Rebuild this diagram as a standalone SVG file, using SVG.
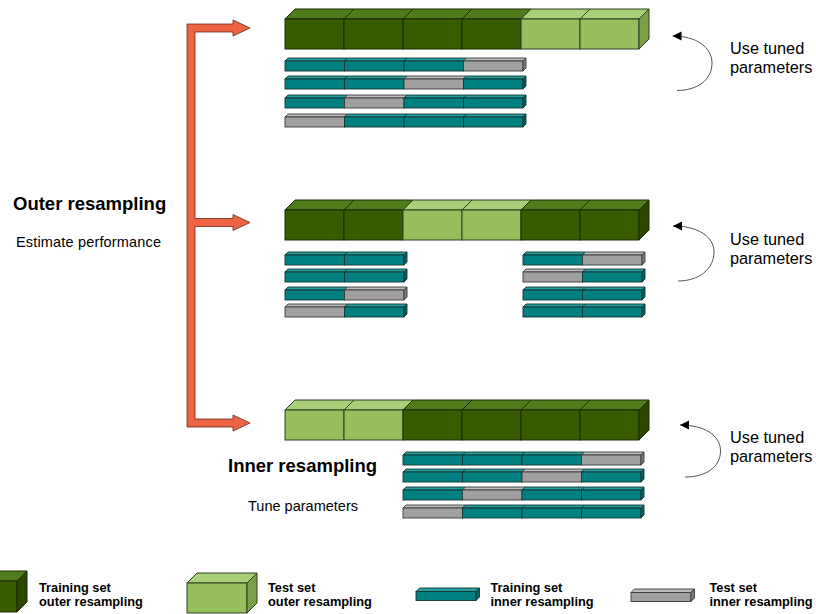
<svg xmlns="http://www.w3.org/2000/svg" xmlns:xlink="http://www.w3.org/1999/xlink" width="816" height="614" viewBox="0 0 816 614">
<style>
.df{fill:#385c00;stroke:#1a2a05;stroke-width:1}
.dt{fill:#4f7d1c;stroke:#1a2a05;stroke-width:1}
.ds{fill:#2c4800;stroke:#1a2a05;stroke-width:1}
.lf{fill:#97be5d;stroke:#2f3f20;stroke-width:1}
.lt{fill:#a9cf7a;stroke:#2f3f20;stroke-width:1}
.ls{fill:#7a9f48;stroke:#2f3f20;stroke-width:1}
.tf{fill:#008080;stroke:#173434;stroke-width:0.9}
.tt{fill:#22a0a0;stroke:#173434;stroke-width:0.9}
.ts{fill:#006262;stroke:#173434;stroke-width:0.9}
.gf{fill:#a0a0a0;stroke:#3a3a3a;stroke-width:0.9}
.gt{fill:#bcbcbc;stroke:#3a3a3a;stroke-width:0.9}
.gs{fill:#7c7c7c;stroke:#3a3a3a;stroke-width:0.9}
.orange{fill:#ec6444;stroke:#6b2a1a;stroke-width:0.8}
.arc{fill:none;stroke:#555;stroke-width:1}
.t{font-family:"Liberation Sans",Arial,sans-serif;fill:#000}
.h{font-size:18.5px;font-weight:bold}
.s{font-size:14.5px}
.u{font-size:16.3px}
.lg{font-size:12.8px;font-weight:bold}
</style>
<defs>
<g id="D"><polygon class="dt" points="0,0 10,-10 69,-10 59,0"/><rect class="df" x="0" y="0" width="59" height="30"/></g>
<g id="L"><polygon class="lt" points="0,0 10,-10 69,-10 59,0"/><rect class="lf" x="0" y="0" width="59" height="30"/></g>
<polygon id="DS" class="ds" points="0,0 10,-10 10,20 0,30"/>
<polygon id="LS" class="ls" points="0,0 10,-10 10,20 0,30"/>
<g id="T"><polygon class="tt" points="0,0 3,-3 62.5,-3 59.5,0"/><rect class="tf" x="0" y="0" width="59.5" height="10"/></g>
<g id="G"><polygon class="gt" points="0,0 3,-3 62.5,-3 59.5,0"/><rect class="gf" x="0" y="0" width="59.5" height="10"/></g>
<polygon id="TS" class="ts" points="0,0 3,-3 3,7 0,10"/>
<polygon id="GS" class="gs" points="0,0 3,-3 3,7 0,10"/>
<marker id="ah" viewBox="0 0 10 10" refX="10" refY="5" markerWidth="9" markerHeight="11" markerUnits="userSpaceOnUse" orient="auto-start-reverse">
<path d="M0,0 L10,5 L0,10 Z" fill="#000"/>
</marker>
</defs>

<g id="connectors">
<path class="orange" d="M187,24 L233,24 L233,20 L250,28 L233,36 L233,32 L195,32 L195,218.5 L233,218.5 L233,214.5 L250,222.5 L233,230.5 L233,226.5 L195,226.5 L195,419 L233,419 L233,415 L250,423 L233,431 L233,427 L187,427 Z"/>
<path class="arc" marker-start="url(#ah)" d="M672.5,36 C696,36 712,47 712,63 C712,80 697,90.5 677,90.5"/>
<path class="arc" marker-start="url(#ah)" d="M673,226 C697,226 714,236 714,252 C714,269 699,281 678,281"/>
<path class="arc" marker-start="url(#ah)" d="M680,425 C704,425 720.5,435 720.5,451 C720.5,467 706,477 685,477"/>
</g>

<g id="outer-top">
<use href="#D" x="285" y="19"/><use href="#D" x="344" y="19"/><use href="#D" x="403" y="19"/><use href="#D" x="462" y="19"/><use href="#L" x="521" y="19"/><use href="#L" x="580" y="19"/><use href="#LS" x="639" y="19"/>
</g>
<g id="inner-top">
<use href="#T" x="285" y="61"/><use href="#T" x="344.5" y="61"/><use href="#T" x="404" y="61"/><use href="#G" x="463.5" y="61"/><use href="#GS" x="523" y="61"/>
<use href="#T" x="285" y="79"/><use href="#T" x="344.5" y="79"/><use href="#G" x="404" y="79"/><use href="#T" x="463.5" y="79"/><use href="#TS" x="523" y="79"/>
<use href="#T" x="285" y="98"/><use href="#G" x="344.5" y="98"/><use href="#T" x="404" y="98"/><use href="#T" x="463.5" y="98"/><use href="#TS" x="523" y="98"/>
<use href="#G" x="285" y="117"/><use href="#T" x="344.5" y="117"/><use href="#T" x="404" y="117"/><use href="#T" x="463.5" y="117"/><use href="#TS" x="523" y="117"/>
</g>

<g id="outer-middle">
<use href="#D" x="285" y="210"/><use href="#D" x="344" y="210"/><use href="#L" x="403" y="210"/><use href="#L" x="462" y="210"/><use href="#D" x="521" y="210"/><use href="#D" x="580" y="210"/><use href="#DS" x="639" y="210"/>
</g>
<g id="inner-middle-left">
<use href="#T" x="285" y="255"/><use href="#T" x="344.5" y="255"/><use href="#TS" x="404" y="255"/>
<use href="#T" x="285" y="272"/><use href="#T" x="344.5" y="272"/><use href="#TS" x="404" y="272"/>
<use href="#T" x="285" y="290"/><use href="#G" x="344.5" y="290"/><use href="#GS" x="404" y="290"/>
<use href="#G" x="285" y="307"/><use href="#T" x="344.5" y="307"/><use href="#TS" x="404" y="307"/>
</g>
<g id="inner-middle-right">
<use href="#T" x="523" y="255"/><use href="#G" x="582.5" y="255"/><use href="#GS" x="642" y="255"/>
<use href="#G" x="523" y="272"/><use href="#T" x="582.5" y="272"/><use href="#TS" x="642" y="272"/>
<use href="#T" x="523" y="290"/><use href="#T" x="582.5" y="290"/><use href="#TS" x="642" y="290"/>
<use href="#T" x="523" y="307"/><use href="#T" x="582.5" y="307"/><use href="#TS" x="642" y="307"/>
</g>

<g id="outer-bottom">
<use href="#L" x="285" y="410"/><use href="#L" x="344" y="410"/><use href="#D" x="403" y="410"/><use href="#D" x="462" y="410"/><use href="#D" x="521" y="410"/><use href="#D" x="580" y="410"/><use href="#DS" x="639" y="410"/>
</g>
<g id="inner-bottom">
<use href="#T" x="403" y="455"/><use href="#T" x="462.5" y="455"/><use href="#T" x="522" y="455"/><use href="#G" x="581.5" y="455"/><use href="#GS" x="641" y="455"/>
<use href="#T" x="403" y="472"/><use href="#T" x="462.5" y="472"/><use href="#G" x="522" y="472"/><use href="#T" x="581.5" y="472"/><use href="#TS" x="641" y="472"/>
<use href="#T" x="403" y="490"/><use href="#G" x="462.5" y="490"/><use href="#T" x="522" y="490"/><use href="#T" x="581.5" y="490"/><use href="#TS" x="641" y="490"/>
<use href="#G" x="403" y="508"/><use href="#T" x="462.5" y="508"/><use href="#T" x="522" y="508"/><use href="#T" x="581.5" y="508"/><use href="#TS" x="641" y="508"/>
</g>

<g id="labels">
<text class="t h" x="13" y="209.5">Outer resampling</text>
<text class="t s" x="16" y="246.5" textLength="145" lengthAdjust="spacing">Estimate performance</text>
<text class="t h" x="228" y="471.5">Inner resampling</text>
<text class="t s" x="248" y="510.5" textLength="110" lengthAdjust="spacing">Tune parameters</text>
<text class="t u" x="730" y="54">Use tuned</text>
<text class="t u" x="730" y="72.5">parameters</text>
<text class="t u" x="730" y="245">Use tuned</text>
<text class="t u" x="730" y="263.5">parameters</text>
<text class="t u" x="730" y="443">Use tuned</text>
<text class="t u" x="730" y="461.5">parameters</text>
</g>

<g id="legend-outer-train">
<polygon class="dt" points="-14,581 -4,571 27,571 17,581"/>
<rect class="df" x="-14" y="581" width="31" height="31"/>
<polygon class="ds" points="17,581 27,571 27,602 17,612"/>
<text class="t lg" x="39" y="592">Training set</text>
<text class="t lg" x="39" y="605.5">outer resampling</text>
</g>
<g id="legend-outer-test">
<polygon class="lt" points="187,583 197,573 257,573 247,583"/>
<rect class="lf" x="187" y="583" width="60" height="30"/>
<polygon class="ls" points="247,583 257,573 257,603 247,613"/>
<text class="t lg" x="268" y="592">Test set</text>
<text class="t lg" x="268" y="605.5">outer resampling</text>
</g>
<g id="legend-inner-train">
<polygon class="tt" points="416,591.5 419.5,588 479.5,588 476,591.5"/>
<rect class="tf" x="416" y="591.5" width="60" height="9"/>
<polygon class="ts" points="476,591.5 479.5,588 479.5,597 476,600.5"/>
<text class="t lg" x="490.5" y="592">Training set</text>
<text class="t lg" x="490.5" y="605.5">inner resampling</text>
</g>
<g id="legend-inner-test">
<polygon class="gt" points="631,592.5 634.5,589 694.5,589 691,592.5"/>
<rect class="gf" x="631" y="592.5" width="60" height="9"/>
<polygon class="gs" points="691,592.5 694.5,589 694.5,598 691,601.5"/>
<text class="t lg" x="709.5" y="592">Test set</text>
<text class="t lg" x="709.5" y="605.5">inner resampling</text>
</g>
</svg>
